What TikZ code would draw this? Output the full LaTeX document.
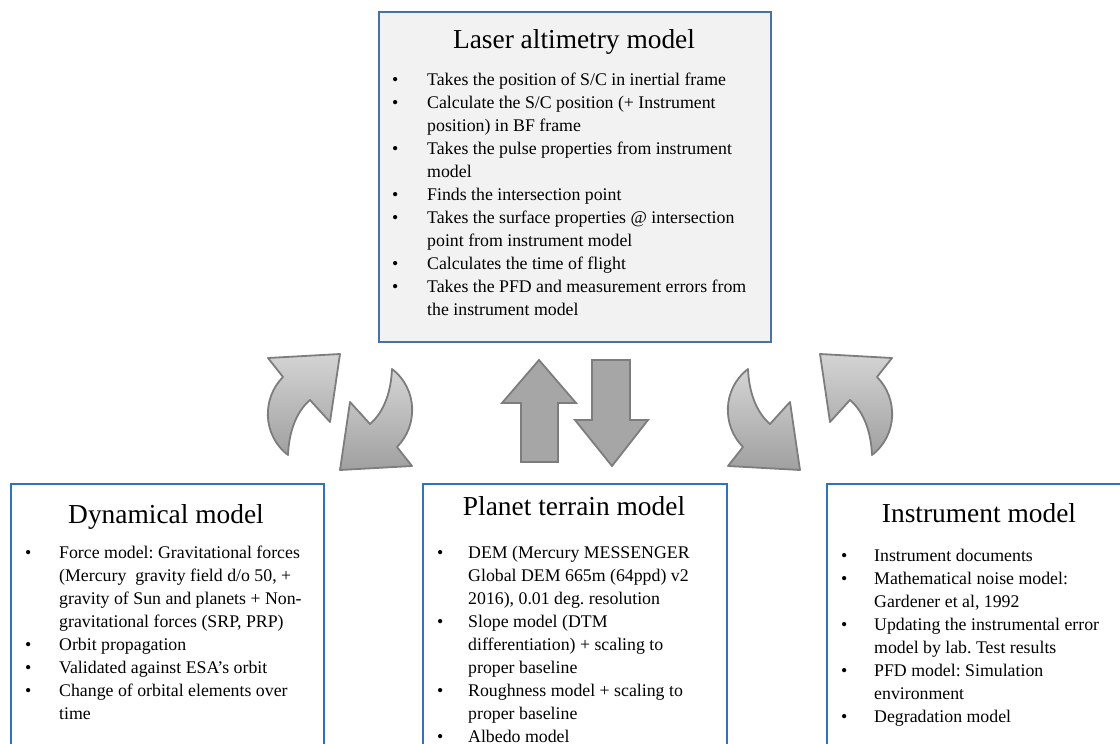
\documentclass[tikz,border=0pt]{standalone}
\usepackage{fontspec}
\setmainfont{Liberation Serif}
\usepackage{array}
\frenchspacing
\definecolor{topfill}{RGB}{242,242,242}
\definecolor{topborder}{RGB}{70,115,160}
\definecolor{botborder}{RGB}{46,117,182}
\definecolor{arrowline}{RGB}{125,125,125}
\definecolor{arrowfill}{RGB}{166,166,166}
\definecolor{arrowlight}{RGB}{212,212,212}
\definecolor{arrowdark}{RGB}{160,160,160}
\newcommand{\bodyfont}{\fontsize{17.8}{23}\selectfont}
\newcommand{\titlefont}{\fontsize{27.4}{30}\selectfont}
\newcommand{\bl}{\textbullet &}
\tikzset{
  topbox/.style={draw=topborder, fill=topfill, line width=1.6pt, inner sep=0pt, anchor=north west},
  botbox/.style={draw=botborder, fill=white, line width=1.6pt, inner sep=0pt, anchor=north west},
  boxtitle/.style={font=\titlefont, inner sep=0pt, anchor=base},
  boxlist/.style={font=\bodyfont, inner sep=0pt, anchor=base west},
  straightarrow/.style={draw=arrowline, fill=arrowfill, line width=1.8pt, line join=miter},
  curvedarrow/.style={draw=arrowline, line width=1.8pt, line join=round, top color=arrowlight, bottom color=arrowdark}
}
\begin{document}
\begin{tikzpicture}[x=1pt,y=-1pt]
\useasboundingbox (0,0) rectangle (1120,744);
\clip (0,0) rectangle (1120,744);

% boxes
\node[topbox, minimum width=392pt, minimum height=330pt] (laser) at (378,11) {};
\node[botbox, minimum width=313pt, minimum height=290pt] (dyn) at (10,483) {};
\node[botbox, minimum width=304pt, minimum height=290pt] (terrain) at (422,483) {};
\node[botbox, minimum width=320pt, minimum height=290pt] (instr) at (826,483) {};

% titles
\node[boxtitle] (lasertitle) at (574,48) {Laser altimetry model};
\node[boxtitle] (dyntitle) at (166,523) {Dynamical model};
\node[boxtitle] (terraintitle) at (574,515) {Planet terrain model};
\node[boxtitle] (instrtitle) at (979,522) {Instrument model};

% lists
\node[boxlist] (laserlist) at (392,85) {\begin{tabular}[t]{@{}p{35pt}@{}l@{}}
\bl Takes the position of S/C in inertial frame\\
\bl Calculate the S/C position (+ Instrument\\
 & position) in BF frame\\
\bl Takes the pulse properties from instrument\\
 & model\\
\bl Finds the intersection point\\
\bl Takes the surface properties @ intersection\\
 & point from instrument model\\
\bl Calculates the time of flight\\
\bl Takes the PFD and measurement errors from\\
 & the instrument model
\end{tabular}};

\node[boxlist] (dynlist) at (25,558) {\begin{tabular}[t]{@{}p{34pt}@{}l@{}}
\bl Force model: Gravitational forces\\
 & (Mercury\ \ gravity field d/o 50, +\\
 & gravity of Sun and planets + Non-\\
 & gravitational forces (SRP, PRP)\\
\bl Orbit propagation\\
\bl Validated against ESA’s orbit\\
\bl Change of orbital elements over\\
 & time
\end{tabular}};

\node[boxlist] (terrainlist) at (437,558) {\begin{tabular}[t]{@{}p{31pt}@{}l@{}}
\bl DEM (Mercury MESSENGER\\
 & Global DEM 665m (64ppd) v2\\
 & 2016), 0.01 deg. resolution\\
\bl Slope model (DTM\\
 & differentiation) + scaling to\\
 & proper baseline\\
\bl Roughness model + scaling to\\
 & proper baseline\\
\bl Albedo model
\end{tabular}};

\node[boxlist] (instrlist) at (841,561) {\begin{tabular}[t]{@{}p{33pt}@{}l@{}}
\bl Instrument documents\\
\bl Mathematical noise model:\\
 & Gardener et al, 1992\\
\bl Updating the instrumental error\\
 & model by lab. Test results\\
\bl PFD model: Simulation\\
 & environment\\
\bl Degradation model
\end{tabular}};

% curved arrows, left pair
\path[curvedarrow] (340,354) -- (268,358) -- (283,377)
  .. controls (262,398) and (262,435) .. (288,455)
  .. controls (289,432) and (296,412) .. (310,400)
  -- (330,422) -- cycle;
\path[curvedarrow] (340,470) -- (412,466) -- (397,447)
  .. controls (418,426) and (418,389) .. (392,369)
  .. controls (391,392) and (384,412) .. (370,424)
  -- (350,402) -- cycle;
% curved arrows, right pair
\path[curvedarrow] (820,354) -- (892,358) -- (877,377)
  .. controls (898,398) and (898,435) .. (872,455)
  .. controls (871,432) and (864,412) .. (850,400)
  -- (830,422) -- cycle;
\path[curvedarrow] (800,470) -- (728,466) -- (743,447)
  .. controls (722,426) and (722,389) .. (748,369)
  .. controls (749,392) and (756,412) .. (770,424)
  -- (790,402) -- cycle;

% straight arrows
\draw[straightarrow] (539,360) -- (576,403) -- (558,403) -- (558,462) -- (521,462) -- (521,403) -- (502,403) -- cycle;
\draw[straightarrow] (592,360) -- (630,360) -- (630,420) -- (648,420) -- (612,466) -- (575,420) -- (592,420) -- cycle;
\end{tikzpicture}
\end{document}
